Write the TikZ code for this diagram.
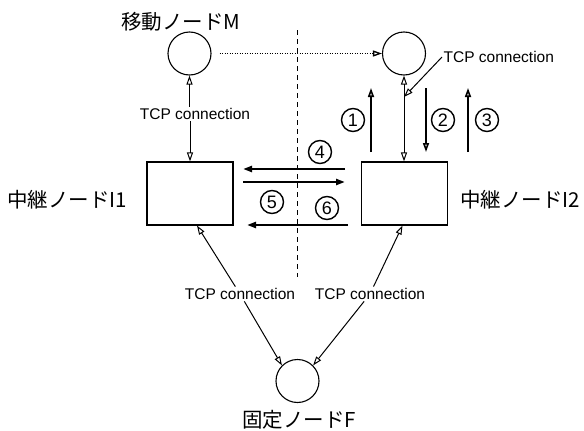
\documentclass[tikz,border=0pt]{standalone}
\usepackage{fontspec}
\setmainfont{Liberation Sans}
\newfontfamily\jpfont{Noto Sans CJK JP}
\usetikzlibrary{arrows.meta}

\begin{document}
\begin{tikzpicture}[x=1pt, y=-1pt, >={Triangle[open,length=9pt,width=6pt]},
	every node/.style={font=\fontsize{15.5}{18}\selectfont},
	host/.style={circle, draw, line width=1.1pt, minimum size=43pt, inner sep=0pt},
	relay/.style={rectangle, draw, line width=1.1pt, minimum width=86pt, minimum height=63pt},
	hostname/.style={font=\jpfont\fontsize{20.5}{24}\selectfont},
	tcp/.style={inner sep=1.5pt},
	num/.style={circle, draw, line width=1.4pt, minimum size=23pt, inner sep=0pt, font=\fontsize{18}{20}\selectfont},
	link/.style={->, line width=1pt},
	flow/.style={->, line width=1.6pt},
	relayflow/.style={->, line width=2.2pt}]
	\useasboundingbox (0,0) rectangle (584,431);
	\node[host] (nodeM) at (189.5,53.5) {};
	\node[host] (nodeR) at (404,53.5) {};
	\node[host] (nodeF) at (297.5,381) {};
	\node[relay] (nodeI1) at (190,193.5) {};
	\node[relay] (nodeI2) at (404.5,193.5) {};
	\node[hostname] (nameM) at (181,22) {移動ノードM};
	\node[hostname] (nameI1) at (67,200) {中継ノードI1};
	\node[hostname] (nameI2) at (520,200) {中継ノードI2};
	\node[hostname] (nameF) at (299,420) {固定ノードF};
	\node[tcp] (tcpM) at (195,114) {TCP connection};
	\node[tcp, anchor=west] (tcpR) at (442,57) {TCP connection};
	\node[tcp] (tcpL) at (240,294) {TCP connection};
	\node[tcp] (tcpF) at (370,294) {TCP connection};
	\coordinate (cutT) at (297,30);
	\coordinate (cutB) at (297,277);
	\draw[line width=0.7pt, dash pattern=on 5pt off 4pt] (cutT) -- (cutB);
	\draw[->, line width=1.3pt, dash pattern=on 1.2pt off 1.3pt, shorten <=8pt] (nodeM.east) -- (nodeR.west);
	\draw[link] (tcpM.north -| nodeM.south) -- (nodeM.south);
	\draw[link] (tcpM.south -| nodeI1.north) -- (nodeI1.north);
	\draw[link, <->] (nodeR.south) -- (nodeR.south |- nodeI2.north);
	\coordinate (hit) at (404,97);
	\draw[link] (tcpR.west) -- (hit);
	\draw[link] (tcpL) -- ([xshift=7pt]nodeI1.south);
	\draw[link] (tcpL) -- (nodeF.135);
	\draw[link] (tcpF) -- ([xshift=-2pt]nodeI2.south);
	\draw[link] (tcpF) -- (nodeF.45);
	\coordinate (s1) at (371,152); \coordinate (e1) at (371,88);
	\coordinate (s2) at (426,88); \coordinate (e2) at (426,152);
	\coordinate (s3) at (468,152); \coordinate (e3) at (468,88);
	\draw[flow] (s1) -- (e1);
	\draw[flow] (s2) -- (e2);
	\draw[flow] (s3) -- (e3);
	\coordinate (s4) at (345,169); \coordinate (e4) at (243,169);
	\coordinate (s5) at (243,182); \coordinate (e5) at (345,182);
	\coordinate (s6) at (348,225); \coordinate (e6) at (247,225);
	\draw[relayflow] (s4) -- (e4);
	\draw[relayflow] (s5) -- (e5);
	\draw[relayflow] (s6) -- (e6);
	\node[num] (n1) at (353,120) {1};
	\node[num] (n2) at (443,120) {2};
	\node[num] (n3) at (487,120) {3};
	\node[num] (n4) at (320,152) {4};
	\node[num] (n5) at (272,202) {5};
	\node[num] (n6) at (327,208) {6};
\end{tikzpicture}
\end{document}
